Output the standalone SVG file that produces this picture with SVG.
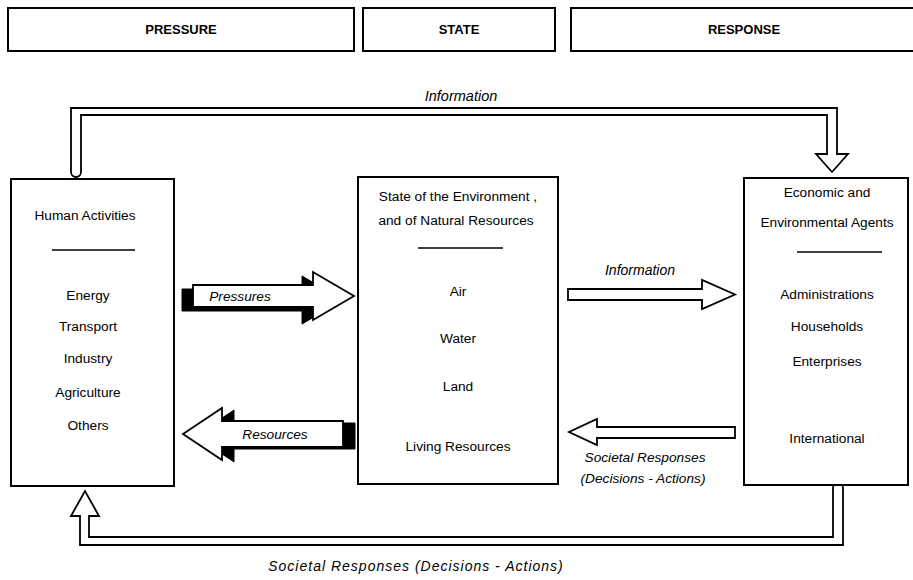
<svg xmlns="http://www.w3.org/2000/svg" width="913" height="580" viewBox="0 0 913 580">
<style>
.box{fill:#fff;stroke:#000;stroke-width:2}
.t{font-family:"Liberation Sans",Arial,sans-serif;font-size:13.7px;fill:#000;text-anchor:middle}
.h{font-weight:bold;font-size:13px}
.i{font-style:italic}
.sep{stroke:#000;stroke-width:1.5}
.arr{fill:#fff;stroke:#000;stroke-width:1.8;stroke-linejoin:miter}
.shd{fill:#000;stroke:#000;stroke-width:1}
</style>
<rect width="913" height="580" fill="#fff"/>
<g id="header-pressure"><rect class="box" x="8" y="8" width="346" height="43"/><text class="t h" x="181" y="34">PRESSURE</text></g>
<g id="header-state"><rect class="box" x="363" y="8" width="192" height="43"/><text class="t h" x="459" y="34">STATE</text></g>
<g id="header-response"><rect class="box" x="571" y="8" width="352" height="43"/><text class="t h" x="744" y="34">RESPONSE</text></g>

<g id="connectors">
<path class="arr" d="M71,172 V108 H837 V154 H848 L832,172 L816,154 H827 V115 H81 V172 A5,5 0 0 1 71,172 Z"/>
<text class="t i" x="461" y="101" style="font-size:14.5px">Information</text>
<path class="arr" d="M833,488 V537 H89 V516 H99 L85,491 L71,516 H80 V545 H843 V488 A5,5 0 0 0 833,488 Z"/>
<text class="t i" x="416" y="571" style="font-size:14px;letter-spacing:1px">Societal Responses (Decisions - Actions)</text>
<path class="shd" transform="translate(-11,4)" d="M193,285 H313 V272 L354,296 L313,320 V307 H193 Z"/>
<path class="arr" d="M193,285 H313 V272 L354,296 L313,320 V307 H193 Z"/>
<text class="t i" x="240" y="301">Pressures</text>
<path class="shd" transform="translate(12,2)" d="M343,421 H222 V408 L183,434 L222,460 V447 H343 Z"/>
<path class="arr" d="M343,421 H222 V408 L183,434 L222,460 V447 H343 Z"/>
<text class="t i" x="275" y="439">Resources</text>
<path class="arr" d="M568,289 H702 V280 L735,294.5 L702,309 V300 H568 Z"/>
<text class="t i" x="640" y="275" style="font-size:14px">Information</text>
<path class="arr" d="M735,427 H597 V419 L569,432 L597,445 V438 H735 Z"/>
<text class="t i" x="645" y="462">Societal Responses</text>
<text class="t i" x="643" y="483">(Decisions - Actions)</text>
</g>

<g id="human-activities">
<rect class="box" x="11" y="179" width="163" height="307"/>
<text class="t" x="85" y="220">Human Activities</text>
<line class="sep" x1="52" y1="250" x2="135" y2="250"/>
<text class="t" x="88" y="300">Energy</text>
<text class="t" x="88" y="331">Transport</text>
<text class="t" x="88" y="363">Industry</text>
<text class="t" x="88" y="397">Agriculture</text>
<text class="t" x="88" y="430">Others</text>
</g>

<g id="state-environment">
<rect class="box" x="358" y="177" width="200" height="307"/>
<text class="t" x="458" y="201">State of the Environment ,</text>
<text class="t" x="456" y="225">and of Natural Resources</text>
<line class="sep" x1="418" y1="248" x2="503" y2="248"/>
<text class="t" x="458" y="296">Air</text>
<text class="t" x="458" y="343">Water</text>
<text class="t" x="458" y="391">Land</text>
<text class="t" x="458" y="451">Living Resources</text>
</g>

<g id="agents">
<rect class="box" x="744" y="178" width="164" height="307"/>
<text class="t" x="827" y="197">Economic and</text>
<text class="t" x="827" y="227">Environmental Agents</text>
<line class="sep" x1="797" y1="252" x2="882" y2="252"/>
<text class="t" x="827" y="299">Administrations</text>
<text class="t" x="827" y="331">Households</text>
<text class="t" x="827" y="366">Enterprises</text>
<text class="t" x="827" y="443">International</text>
</g>
</svg>
